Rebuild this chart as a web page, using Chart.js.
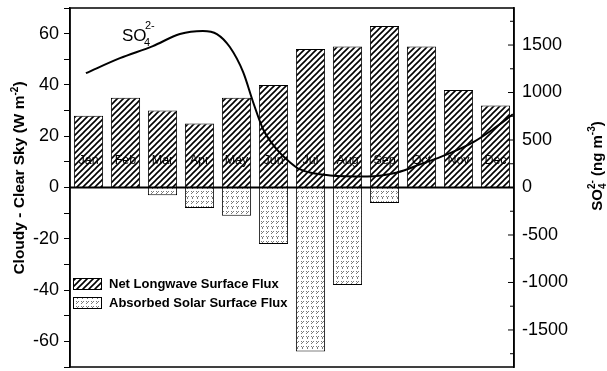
<!DOCTYPE html>
<html>
<head>
<meta charset="utf-8">
<script src="https://cdn.jsdelivr.net/npm/chart.js@4/dist/chart.umd.min.js"></script>
<style>
html,body{margin:0;padding:0;background:#fff;}
#wrap{width:607px;height:371px;position:relative;}
</style>
</head>
<body>
<div id="wrap"><canvas id="c" width="607" height="371"></canvas></div>
<script>
// ---- data ----
const months = ['Jan','Feb','Mar','Apr','May','Jun','Jul','Aug','Sep','Oct','Nov','Dec'];
const longwave = [28, 35, 30, 25, 35, 40, 54, 55, 63, 55, 38, 32];
const solar = [null, null, -3, -8, -11, -22, -64, -38, -6, null, null, null];
// SO4 curve: position in month units (0 = Jan centre) and ng m-3
const so4Pos = [-0.07, 0.85, 1.74, 2.47, 3.09, 3.47, 3.82, 4.18, 4.45, 4.72, 5.09, 5.45, 5.72, 6.53, 7.53, 8.34, 8.96, 9.69, 10.39, 10.93, 11.47];
const so4Val = [1204, 1362, 1489, 1616, 1648, 1616, 1479, 1215, 898, 613, 401, 264, 190, 127, 116, 158, 243, 349, 475, 613, 771];
const leftTicks = [-60, -40, -20, 0, 20, 40, 60];
const rightTicks = [-1500, -1000, -500, 0, 500, 1000, 1500];
const leftRange = [-70, 70];
const rightRange = [-1890, 1890];
const seriesNames = ['Net Longwave Surface Flux', 'Absorbed Solar Surface Flux'];

// ---- patterns ----
function hatchPattern() {
  const s = 6;
  const c = document.createElement('canvas');
  c.width = s; c.height = s;
  const g = c.getContext('2d');
  g.fillStyle = '#fff'; g.fillRect(0, 0, s, s);
  g.strokeStyle = '#000'; g.lineWidth = 1.6;
  g.beginPath();
  g.moveTo(-1, s + 1); g.lineTo(s + 1, -1);
  g.moveTo(-1, 1); g.lineTo(1, -1);
  g.moveTo(s - 1, s + 1); g.lineTo(s + 1, s - 1);
  g.stroke();
  return g.createPattern(c, 'repeat');
}
function stipplePattern() {
  const s = 10;
  const c = document.createElement('canvas');
  c.width = s; c.height = s;
  const g = c.getContext('2d');
  g.fillStyle = '#fff'; g.fillRect(0, 0, s, s);
  g.fillStyle = '#7a7a7a';
  const marks = [[1,1],[2,2],[1,3],[3,1],[6,1],[7,2],[6,3],[8,1],[1,6],[2,7],[3,6],[2,8],[6,6],[7,7],[8,6],[7,8]];
  marks.forEach(p => g.fillRect(p[0], p[1], 1, 1));
  return g.createPattern(c, 'repeat');
}
const hatch = hatchPattern();
const stipple = stipplePattern();

const FONT = '"Liberation Sans", Arial, sans-serif';

const decorPlugin = {
  id: 'decor',
  afterDatasetsDraw(chart) {
    const ctx = chart.ctx;
    const a = chart.chartArea;
    const xs = chart.scales.x, ys = chart.scales.y, y2 = chart.scales.y2;
    ctx.save();
    // month labels inside bars
    ctx.fillStyle = '#000';
    ctx.font = '12.5px ' + FONT;
    ctx.textAlign = 'center';
    ctx.textBaseline = 'middle';
    months.forEach((m, i) => {
      ctx.fillText(m, xs.getPixelForValue(i), ys.getPixelForValue(10.5));
    });
    // zero line
    ctx.strokeStyle = '#000';
    ctx.lineWidth = 2;
    ctx.beginPath();
    ctx.moveTo(a.left, ys.getPixelForValue(0));
    ctx.lineTo(a.right, ys.getPixelForValue(0));
    ctx.stroke();
    // frame
    ctx.lineWidth = 1.5;
    ctx.strokeRect(a.left, a.top, a.right - a.left, a.bottom - a.top);
    // right axis inward ticks
    ctx.lineWidth = 1;
    for (let v = -1750; v <= 1750; v += 250) {
      const py = y2.getPixelForValue(v);
      const len = (v % 500 === 0) ? 6 : 4;
      ctx.beginPath();
      ctx.moveTo(a.right - len, py);
      ctx.lineTo(a.right, py);
      ctx.stroke();
    }
    // SO4 label near curve
    ctx.textAlign = 'left';
    ctx.textBaseline = 'alphabetic';
    ctx.font = '17px ' + FONT;
    ctx.fillText('SO', 122, 41);
    ctx.font = '11px ' + FONT;
    ctx.fillText('4', 144, 46);
    ctx.fillText('2-', 145, 29);
    // left axis title
    ctx.save();
    ctx.translate(24, 178);
    ctx.rotate(-Math.PI / 2);
    ctx.font = 'bold 15.5px ' + FONT;
    ctx.textBaseline = 'alphabetic';
    const t1 = 'Cloudy - Clear Sky (W m';
    const w1 = ctx.measureText(t1).width;
    ctx.font = 'bold 10px ' + FONT;
    const w2 = ctx.measureText('-2').width;
    ctx.font = 'bold 15.5px ' + FONT;
    const w3 = ctx.measureText(')').width;
    let x0 = -(w1 + w2 + w3) / 2;
    ctx.fillText(t1, x0, 0);
    ctx.font = 'bold 10px ' + FONT;
    ctx.fillText('-2', x0 + w1, -6);
    ctx.font = 'bold 15.5px ' + FONT;
    ctx.fillText(')', x0 + w1 + w2, 0);
    ctx.restore();
    // right axis title
    ctx.save();
    ctx.translate(602, 166);
    ctx.rotate(-Math.PI / 2);
    ctx.textBaseline = 'alphabetic';
    const parts = [['SO', 15], ['4', 10], ['2-', 10], [' (ng m', 15], ['-3', 10], [')', 15]];
    const widths = parts.map(p => { ctx.font = 'bold ' + p[1] + 'px ' + FONT; return ctx.measureText(p[0]).width; });
    const total = widths[0] + Math.max(widths[1], widths[2]) + widths[3] + widths[4] + widths[5];
    let x = -total / 2;
    ctx.font = 'bold 15px ' + FONT; ctx.fillText('SO', x, 0); x += widths[0];
    ctx.font = 'bold 10px ' + FONT; ctx.fillText('4', x, 4); ctx.fillText('2-', x, -7); x += Math.max(widths[1], widths[2]);
    ctx.font = 'bold 15px ' + FONT; ctx.fillText(' (ng m', x, 0); x += widths[3];
    ctx.font = 'bold 10px ' + FONT; ctx.fillText('-3', x, -7); x += widths[4];
    ctx.font = 'bold 15px ' + FONT; ctx.fillText(')', x, 0);
    ctx.restore();
    // legend
    const legend = [[hatch, seriesNames[0], 278], [stipple, seriesNames[1], 297]];
    ctx.font = 'bold 13px ' + FONT;
    ctx.textBaseline = 'middle';
    ctx.textAlign = 'left';
    legend.forEach(l => {
      ctx.fillStyle = l[0];
      ctx.fillRect(73, l[2], 28, 11);
      ctx.strokeStyle = '#000';
      ctx.lineWidth = 1;
      ctx.strokeRect(73.5, l[2] + 0.5, 28, 11);
      ctx.fillStyle = '#000';
      ctx.fillText(l[1], 109, l[2] + 6.5);
    });
    ctx.restore();
  }
};

new Chart(document.getElementById('c'), {
  data: {
    labels: months,
    datasets: [
      {
        type: 'line',
        label: 'SO4',
        data: so4Pos.map((p, i) => ({ x: p, y: so4Val[i] })),
        xAxisID: 'xLine',
        yAxisID: 'y2',
        borderColor: '#000',
        borderWidth: 2,
        pointRadius: 0,
        cubicInterpolationMode: 'monotone',
        fill: false,
        order: 0
      },
      {
        type: 'bar',
        label: seriesNames[0],
        data: longwave,
        xAxisID: 'x',
        yAxisID: 'y',
        backgroundColor: hatch,
        borderColor: '#000',
        borderWidth: 1,
        grouped: false,
        barPercentage: 0.79,
        categoryPercentage: 1,
        order: 1
      },
      {
        type: 'bar',
        label: seriesNames[1],
        data: solar,
        xAxisID: 'x',
        yAxisID: 'y',
        backgroundColor: stipple,
        borderColor: '#000',
        borderWidth: 1,
        grouped: false,
        barPercentage: 0.79,
        categoryPercentage: 1,
        order: 2
      }
    ]
  },
  options: {
    responsive: false,
    animation: false,
    layout: { padding: { top: 8, bottom: 4, left: 0, right: 0 } },
    plugins: { legend: { display: false }, tooltip: { enabled: false } },
    scales: {
      x: {
        type: 'category',
        display: false,
        offset: true
      },
      xLine: {
        type: 'linear',
        display: false,
        min: -0.5,
        max: 11.5
      },
      y: {
        position: 'left',
        min: leftRange[0],
        max: leftRange[1],
        afterFit(s) { s.width = 70; s.paddingTop = 0; s.paddingBottom = 0; },
        afterBuildTicks(s) {
          const t = [];
          for (let v = -70; v <= 70; v += 10) t.push({ value: v });
          s.ticks = t;
        },
        ticks: {
          color: '#000',
          font: { family: FONT, size: 18, lineHeight: 1 },
          padding: 5,
          callback: v => leftTicks.includes(v) ? String(v) : ''
        },
        grid: { drawOnChartArea: false, drawTicks: true, tickLength: 6, color: '#000', lineWidth: 1 },
        border: { display: true, color: '#000', width: 1.5 }
      },
      y2: {
        position: 'right',
        min: rightRange[0],
        max: rightRange[1],
        afterFit(s) { s.width = 93; s.paddingTop = 0; s.paddingBottom = 0; },
        afterBuildTicks(s) { s.ticks = rightTicks.map(v => ({ value: v })); },
        ticks: {
          color: '#000',
          font: { family: FONT, size: 18, lineHeight: 1 },
          padding: 8,
          callback: v => String(v)
        },
        grid: { display: false, drawTicks: false },
        border: { display: true, color: '#000', width: 1.5 }
      }
    }
  },
  plugins: [decorPlugin]
});
</script>
</body>
</html>
